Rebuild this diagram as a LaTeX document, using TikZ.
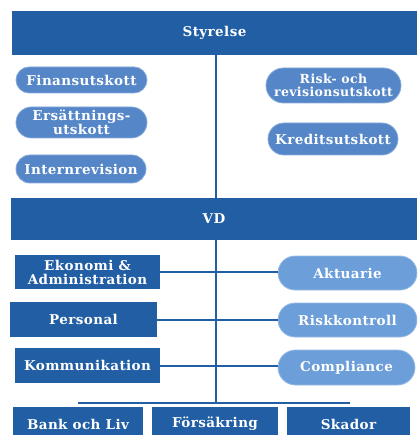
\documentclass[tikz,border=0pt]{standalone}
\usepackage{fontspec}
\usepackage{tikz}
\usetikzlibrary{shapes.misc}
\newfontfamily\orgfont[LetterSpace=3]{DejaVu Serif}
\definecolor{bardark}{RGB}{33,94,163}
\definecolor{pillmid}{RGB}{84,134,200}
\definecolor{pilllight}{RGB}{108,158,218}
\tikzset{
  bar/.style={rectangle,fill=bardark,inner sep=0pt},
  pill/.style={rounded rectangle,fill=pillmid,draw=pillmid!70!white,line width=0.8pt,inner sep=0pt},
  lightpill/.style={pill,fill=pilllight,draw=pilllight!70!white},
  link/.style={draw=bardark,line width=2pt}
}
\begin{document}
\begin{tikzpicture}[x=1pt,y=-1pt,font=\orgfont\bfseries\fontsize{13.5}{14}\selectfont,text=white,align=center]
\useasboundingbox (0,0) rectangle (417,435);
\clip (0,0) rectangle (417,435);
% board and committees
\node[bar,minimum width=405pt,minimum height=44pt] (styrelse) at (214.5,33) {Styrelse};
\node[pill,minimum width=131pt,minimum height=26pt] (finans) at (81.5,80) {Finansutskott};
\node[pill,minimum width=131pt,minimum height=31pt] (ersatt) at (81.5,122.5) {Ersättnings-\\utskott};
\node[pill,minimum width=130pt,minimum height=28pt] (intern) at (81,169) {Internrevision};
\node[pill,minimum width=135pt,minimum height=35pt,font=\orgfont\bfseries\fontsize{12.5}{13.5}\selectfont] (risk) at (333.5,85.5) {Risk- och\\revisionsutskott};
\node[pill,minimum width=130pt,minimum height=32pt] (kredit) at (333,139) {Kreditsutskott};
% management
\node[bar,minimum width=406pt,minimum height=42pt] (vd) at (214,219) {VD};
\node[bar,minimum width=145pt,minimum height=34pt] (ekonomi) at (87.5,272) {Ekonomi \&\\Administration};
\node[bar,minimum width=147pt,minimum height=35pt] (personal) at (83.5,319.5) {Personal};
\node[bar,minimum width=145pt,minimum height=35pt] (kommun) at (87.5,365.5) {Kommunikation};
\node[lightpill,minimum width=139pt,minimum height=34pt] (aktuarie) at (347.5,273) {Aktuarie};
\node[lightpill,minimum width=139pt,minimum height=34pt] (riskkontroll) at (347.5,320) {Riskkontroll};
\node[lightpill,minimum width=137pt,minimum height=35pt] (compliance) at (346.5,367.5) {Compliance};
% business areas
\node[bar,minimum width=130pt,minimum height=34pt] (bank) at (78,424) {Bank och Liv};
\node[bar,minimum width=126pt,minimum height=34pt] (forsakring) at (215,424) {Försäkring};
\node[bar,minimum width=123pt,minimum height=34pt] (skador) at (348.5,424) {Skador};
% connectors
\coordinate (bus) at (216,403);
\coordinate (busleft) at (78,403);
\coordinate (busright) at (350,403);
\draw[link] (styrelse.south -| bus) -- (vd.north -| bus);
\draw[link] (vd.south -| bus) -- (bus);
\draw[link] (busleft) -- (busright);
\draw[link] (ekonomi.east) -- (ekonomi.east -| aktuarie.west);
\draw[link] (personal.east) -- (personal.east -| riskkontroll.west);
\draw[link] (kommun.east) -- (kommun.east -| compliance.west);
\end{tikzpicture}
\end{document}
